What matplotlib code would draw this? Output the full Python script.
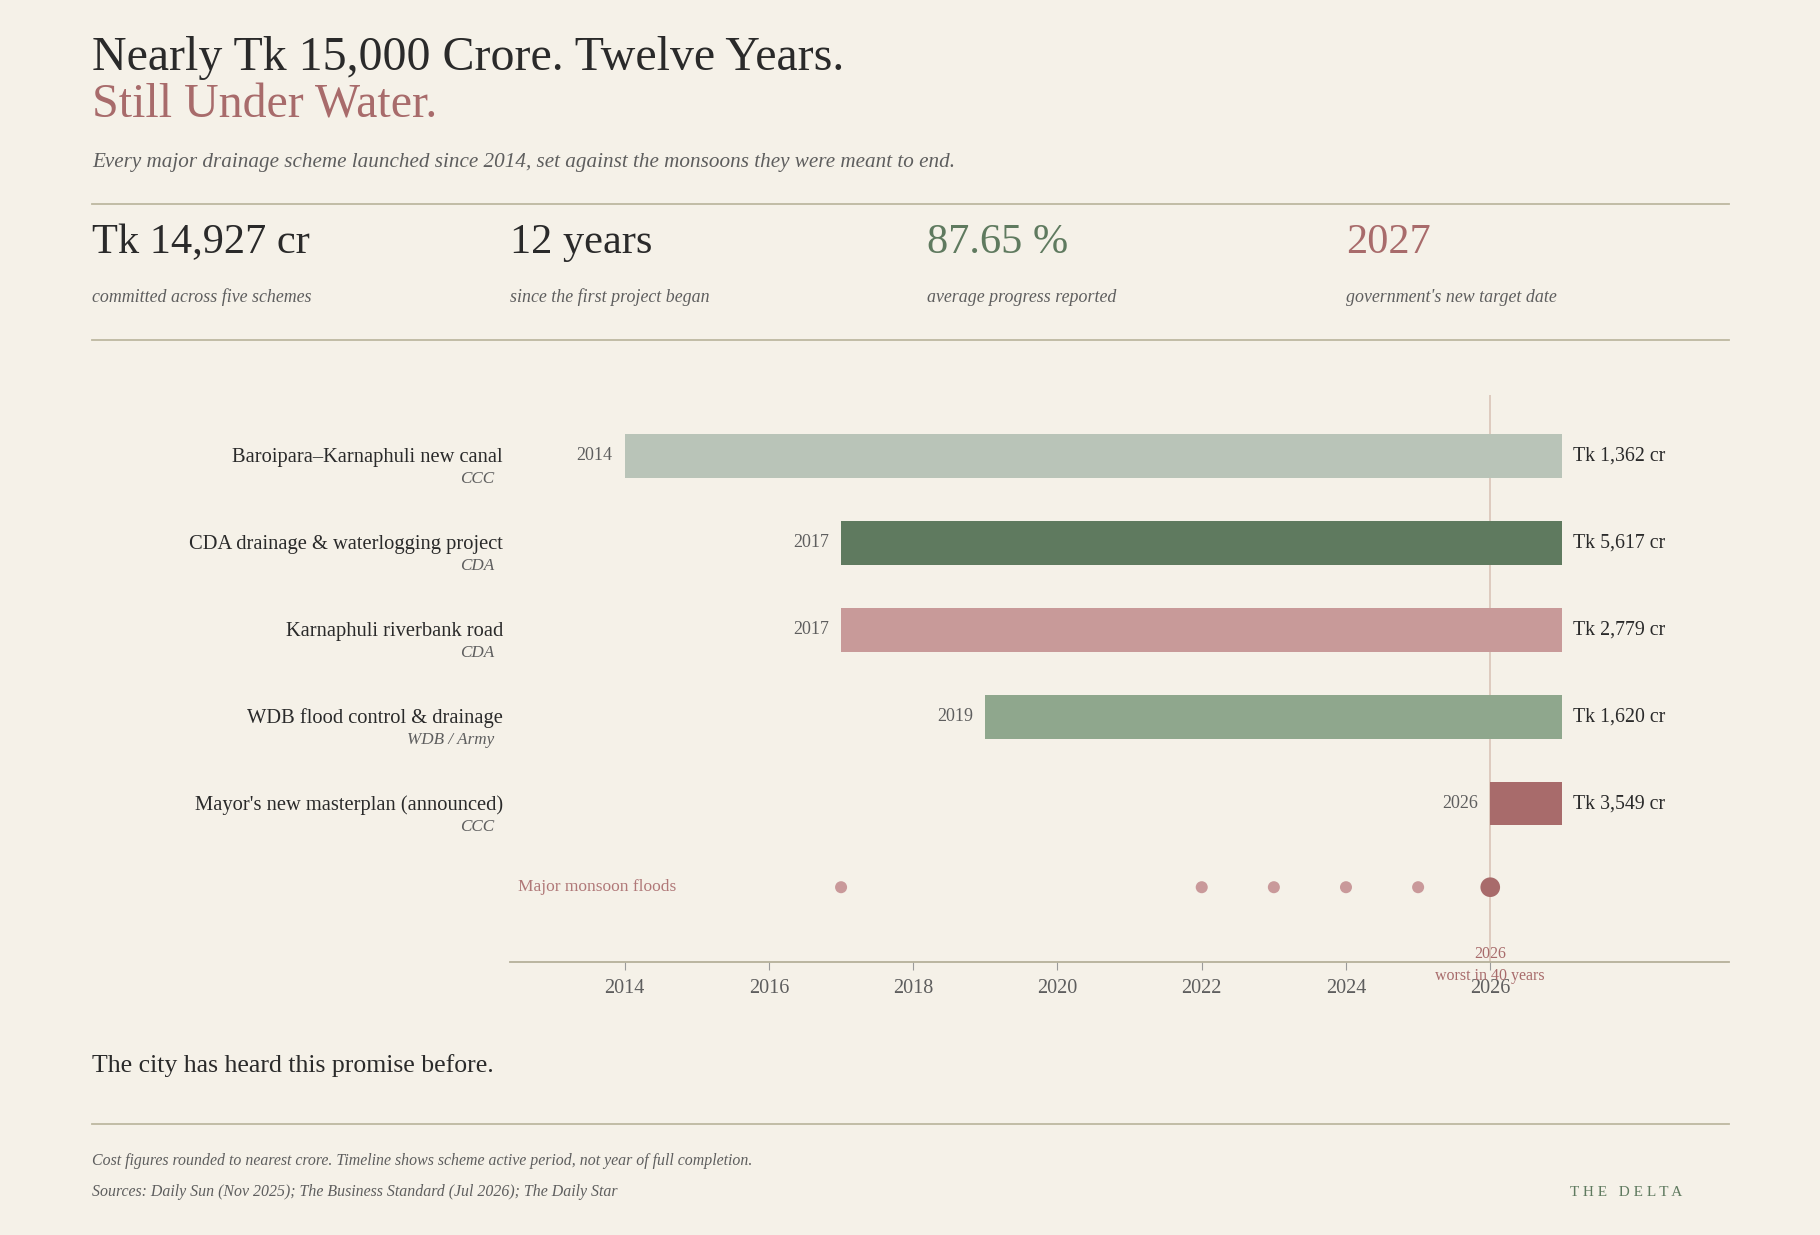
import matplotlib.pyplot as plt
import matplotlib.transforms as mtransforms
import numpy as np

# data
schemes = ["Baroipara\u2013Karnaphuli new canal", "CDA drainage & waterlogging project",
           "Karnaphuli riverbank road", "WDB flood control & drainage",
           "Mayor's new masterplan (announced)"]
agencies = ["CCC", "CDA", "CDA", "WDB / Army", "CCC"]
start_years = [2014, 2017, 2017, 2019, 2026]
target_year = 2027
costs = [1362, 5617, 2779, 1620, 3549]
bar_colors = ["#b9c4b8", "#5f7a5f", "#c89a99", "#8fa78d", "#a86b6b"]
flood_years = [2017, 2022, 2023, 2024, 2025, 2026]
worst_year = 2026
tick_years = list(range(2014, 2027, 2))

stat_values = ["Tk 14,927 cr", "12 years", "87.65 %", "2027"]
stat_labels = ["committed across five schemes", "since the first project began",
               "average progress reported", "government's new target date"]
stat_colors = ["#2a2a2a", "#2a2a2a", "#5f7a5f", "#a86b6b"]

BG = "#f5f1e8"
DARK = "#2a2a2a"
GREY = "#5e5e5e"
RULE = "#bdb8a0"
ROSE = "#a86b6b"
FONT = "Liberation Serif"

W, H = 1820, 1235
fig = plt.figure(figsize=(W / 100, H / 100), dpi=100, facecolor=BG)
plt.rcParams['font.family'] = [FONT, 'DejaVu Serif']


def fx(px):
    return px / W


def fy(py):
    return 1 - py / H


# header
fig.text(fx(92), fy(70), "Nearly Tk 15,000 Crore. Twelve Years.", fontsize=34.5, color=DARK,
         va="baseline")
fig.text(fx(92), fy(118), "Still Under Water.", fontsize=34.5, color=ROSE, va="baseline")
fig.text(fx(92), fy(167), "Every major drainage scheme launched since 2014, set against the monsoons they were meant to end.",
         fontsize=15.2, style="italic", color=GREY, va="baseline")

for ry in [204, 340, 1124]:
    fig.add_artist(plt.Line2D([fx(92), fx(1729)], [fy(ry), fy(ry)], color=RULE, lw=1.3))

stat_x = [92, 510, 927, 1346]
for x, v, lab, c in zip(stat_x, stat_values, stat_labels, stat_colors):
    fig.text(fx(x), fy(253), v, fontsize=30.5, color=c, va="baseline")
    fig.text(fx(x), fy(302), lab, fontsize=12.9, style="italic", color=GREY, va="baseline")

# timeline axes
ax = fig.add_axes([fx(510), fy(962), fx(1729) - fx(510), (962 - 395) / H])
ax.set_facecolor(BG)
ax.set_xlim(2012.41, 2029.31)
ax.set_ylim(5.82, -0.70)
for s in ["top", "right", "left"]:
    ax.spines[s].set_visible(False)
ax.spines["bottom"].set_color("#b5b09a")
ax.spines["bottom"].set_linewidth(1.3)
ax.set_yticks([])
ax.set_xticks(tick_years)
ax.tick_params(axis="x", length=6, color="#9a9a9a", labelsize=14.5, labelcolor=GREY, pad=6)

ax.axvline(worst_year, color="#dcc8bb", lw=1.3, zorder=0)

rows = np.arange(len(schemes))
widths = [target_year - s for s in start_years]
ax.barh(rows, widths, left=start_years, height=0.5, color=bar_colors, zorder=2)

lab_tr = mtransforms.blended_transform_factory(fig.transFigure, ax.transData)
for i in rows:
    ax.text(fx(503), i + 0.02, schemes[i], transform=lab_tr, ha="right", va="center",
            fontsize=14.8, color=DARK)
    ax.text(fx(494), i + 0.27, agencies[i], transform=lab_tr, ha="right", va="center",
            fontsize=12.3, style="italic", color=GREY)
    ax.annotate(str(start_years[i]), (start_years[i], i), xytext=(-12, 0),
                textcoords="offset pixels", ha="right", va="center", fontsize=13, color=GREY)
    ax.annotate(f"Tk {costs[i]:,} cr", (target_year, i), xytext=(11, 0),
                textcoords="offset pixels", ha="left", va="center", fontsize=14.3, color=DARK)

flood_row = len(schemes)
sizes = [200 if y == worst_year else 75 for y in flood_years]
fcols = [ROSE if y == worst_year else "#c9999a" for y in flood_years]
ax.scatter(flood_years, [flood_row - 0.04] * len(flood_years), s=sizes, c=fcols, zorder=3,
           linewidths=0)
ax.text(fx(518), flood_row - 0.04, "Major monsoon floods", transform=lab_tr, ha="left", va="center",
        fontsize=12.5, color="#b07878")
ax.annotate(f"{worst_year}", (worst_year, flood_row), xytext=(0, -63), textcoords="offset pixels",
            ha="center", va="center", fontsize=11.5, color=ROSE, annotation_clip=False)
ax.annotate("worst in 40 years", (worst_year, flood_row), xytext=(0, -85), textcoords="offset pixels",
            ha="center", va="center", fontsize=11.5, color=ROSE, annotation_clip=False)

# footer
fig.text(fx(92), fy(1066), "The city has heard this promise before.", fontsize=18.5, color=DARK,
         va="center")
fig.text(fx(92), fy(1161), "Cost figures rounded to nearest crore. Timeline shows scheme active period, not year of full completion.",
         fontsize=11.4, style="italic", color=GREY, va="center")
fig.text(fx(92), fy(1192), "Sources: Daily Sun (Nov 2025); The Business Standard (Jul 2026); The Daily Star",
         fontsize=11.4, style="italic", color=GREY, va="center")
fig.text(fx(1682), fy(1192), "T H E   D E L T A", fontsize=11, color="#5f7a5f", ha="right", va="center")

fig.savefig("out.png", dpi=100, facecolor=BG)
